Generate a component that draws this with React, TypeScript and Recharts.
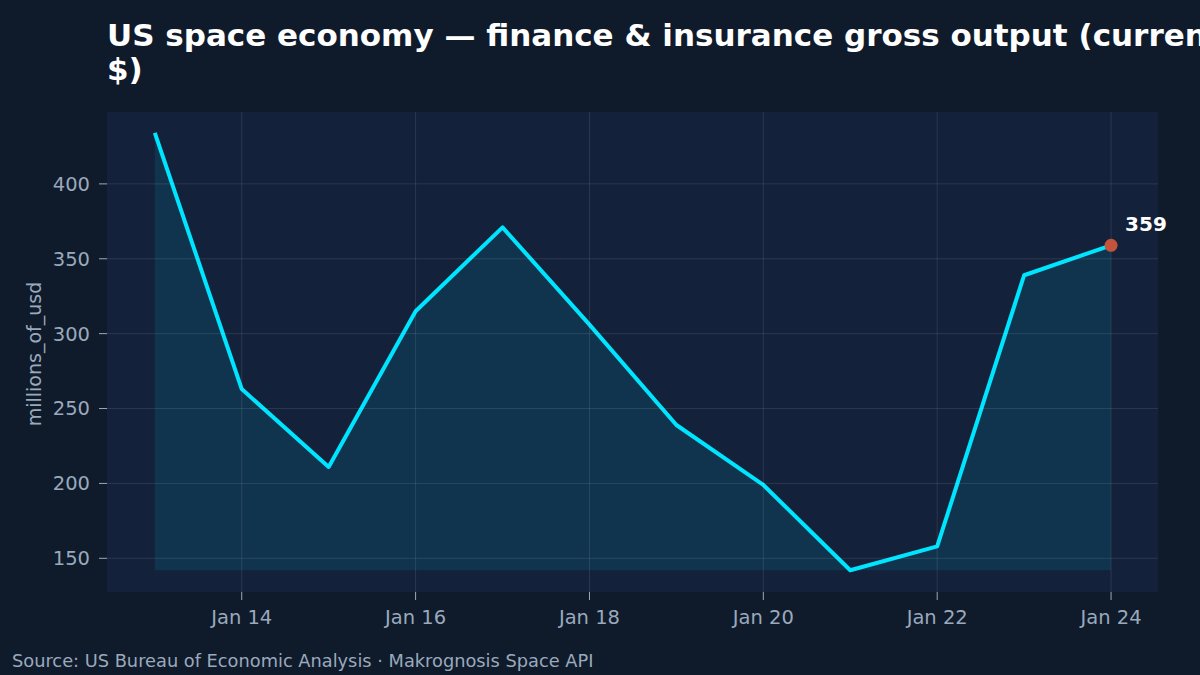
import { ComposedChart, Area, XAxis, YAxis, CartesianGrid, ReferenceDot, ReferenceLine } from "recharts";

const years = [2013, 2014, 2015, 2016, 2017, 2018, 2019, 2020, 2021, 2022, 2023, 2024];
const output = [434, 263, 211, 315, 371, 306, 239, 199, 142, 158, 339, 359];
const xTicks = [2014, 2016, 2018, 2020, 2022, 2024];
const yTicks = [150, 200, 250, 300, 350, 400];

const data = years.map((year, i) => ({ year, value: output[i] }));
const minValue = Math.min(...output);
const last = data[data.length - 1];

const FONT = "'DejaVu Sans', sans-serif";
const MUTED = "#9aa9bc";
const GRID = "rgba(255,255,255,0.1)";

const LastDot = ({ cx, cy }: any) => (
  <g>
    <circle cx={cx} cy={cy} r={6.5} fill="#c4533c" />
    <text x={cx + 14} y={cy - 14} fill="#ffffff" fontSize={20} fontWeight="bold" fontFamily={FONT}>
      {Math.round(last.value)}
    </text>
  </g>
);

export default function App() {
  return (
    <div
      style={{
        position: "absolute",
        left: 0,
        top: 0,
        width: 1200,
        height: 675,
        overflow: "hidden",
        background: "#0f1b2b",
        fontFamily: FONT,
      }}
    >
      <div
        style={{
          position: "absolute",
          left: 107,
          top: 18,
          fontSize: 31,
          lineHeight: "34px",
          fontWeight: "bold",
          color: "#ffffff",
          whiteSpace: "nowrap",
        }}
      >
        <div>US space economy — finance &amp; insurance gross output (current</div>
        <div>$)</div>
      </div>

      <div
        style={{
          position: "absolute",
          left: 34,
          top: 354,
          transform: "translate(-50%, -50%) rotate(-90deg)",
          fontSize: 19,
          color: MUTED,
          whiteSpace: "nowrap",
        }}
      >
        millions_of_usd
      </div>

      <div
        style={{
          position: "absolute",
          left: 12,
          top: 650,
          fontSize: 17.8,
          lineHeight: "22px",
          color: MUTED,
          whiteSpace: "nowrap",
        }}
      >
        Source: US Bureau of Economic Analysis · Makrognosis Space API
      </div>

      <div style={{ position: "absolute", left: 0, top: 0 }}>
        <ComposedChart width={1200} height={675} data={data} margin={{ top: 112, right: 42, bottom: 0, left: 0 }}>
          <CartesianGrid fill="#14213a" horizontal={false} vertical={false} />
          <XAxis
            dataKey="year"
            type="number"
            domain={[2012.45, 2024.54]}
            ticks={xTicks}
            allowDataOverflow
            tickFormatter={(y: number) => `Jan ${String(y).slice(2)}`}
            axisLine={false}
            tickLine={{ stroke: MUTED }}
            tickSize={8}
            tickMargin={10}
            height={83}
            tick={{ fill: MUTED, fontSize: 19.5, fontFamily: FONT }}
          />
          <YAxis
            type="number"
            domain={[127.5, 448]}
            ticks={yTicks}
            allowDataOverflow
            axisLine={false}
            tickLine={{ stroke: MUTED }}
            tickSize={8}
            tickMargin={9}
            width={107}
            tick={{ fill: MUTED, fontSize: 19.5, fontFamily: FONT }}
          />
          {xTicks.map((t) => (
            <ReferenceLine key={`x${t}`} x={t} stroke={GRID} strokeWidth={1} />
          ))}
          {yTicks.map((t) => (
            <ReferenceLine key={`y${t}`} y={t} stroke={GRID} strokeWidth={1} />
          ))}
          <Area
            type="linear"
            dataKey="value"
            baseValue={minValue}
            stroke="#00e5ff"
            strokeWidth={4}
            strokeLinejoin="round"
            fill="#00e5ff"
            fillOpacity={0.1}
            dot={false}
            activeDot={false}
            isAnimationActive={false}
          />
          <ReferenceDot x={last.year} y={last.value} r={6.5} shape={LastDot} />
        </ComposedChart>
      </div>
    </div>
  );
}
